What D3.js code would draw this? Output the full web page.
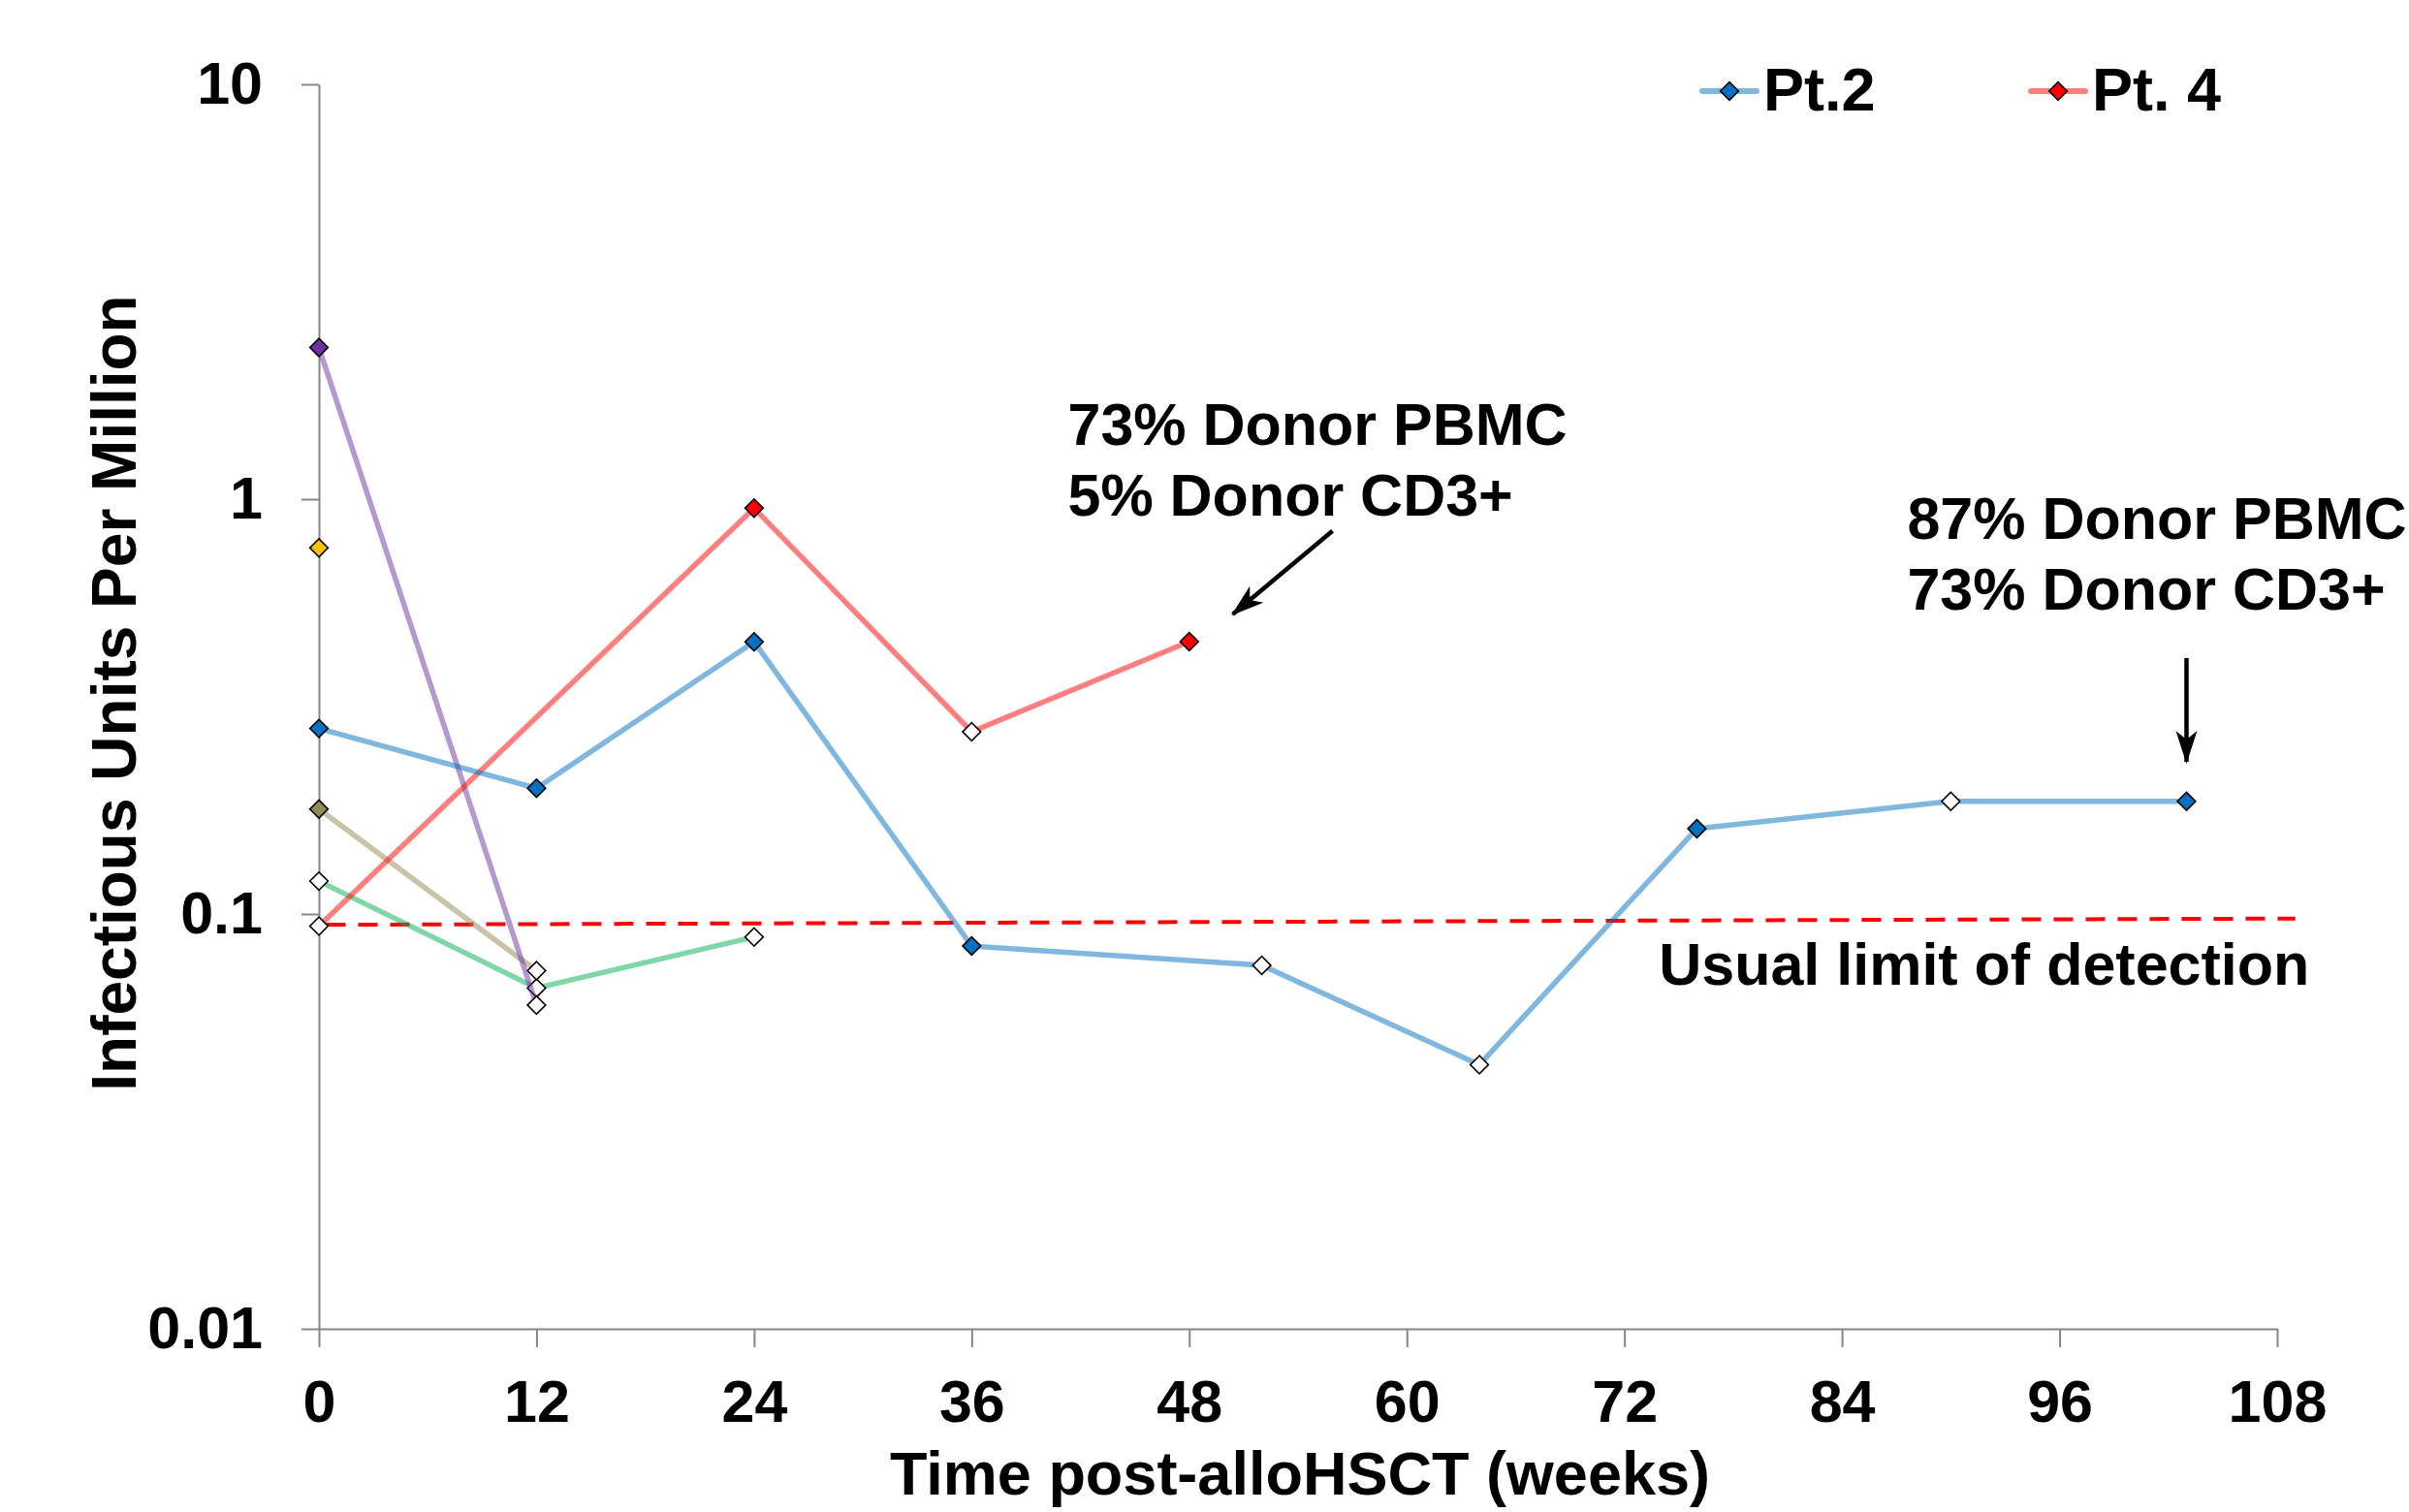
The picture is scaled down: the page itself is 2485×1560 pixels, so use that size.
<html>
<head>
<title>Infectious units per million</title>
<script src="https://cdn.jsdelivr.net/npm/d3@7"></script>
<style>
  body { margin: 0; background: #fff; }
  text { font-family: "Liberation Sans", Arial, sans-serif; font-weight: bold; fill: #000; }
</style>
</head>
<body>
<svg id="chart" width="2485" height="1560"></svg>

<script type="text/javascript">
// weeks post-alloHSCT, infectious units per million, filled = 1 / open marker = 0
var pt2Weeks  = [0, 12, 24, 36, 52, 64, 76, 90, 103],
    pt2Values = [0.280, 0.201, 0.453, 0.0837, 0.0752, 0.0433, 0.1606, 0.187, 0.187],
    pt2Filled = [1, 1, 1, 1, 0, 0, 1, 0, 1];

var pt4Weeks  = [0, 24, 36, 48],
    pt4Values = [0.0935, 0.951, 0.275, 0.4535],
    pt4Filled = [0, 1, 0, 1];

var purpleWeeks  = [0, 12],
    purpleValues = [2.32, 0.0603],
    purpleFilled = [1, 0];

var oliveWeeks  = [0, 12],
    oliveValues = [0.179, 0.073],
    oliveFilled = [1, 0];

var greenWeeks  = [0, 12, 24],
    greenValues = [0.120, 0.0663, 0.088],
    greenFilled = [0, 0, 0];

var yellowWeeks  = [0],
    yellowValues = [0.763],
    yellowFilled = [1];

var limitWeeks  = [0.4, 109],
    limitValues = [0.0942, 0.0975];

var xTicks = [0, 12, 24, 36, 48, 60, 72, 84, 96, 108],
    yTicks = [0.01, 0.1, 1, 10],
    yTickLabels = ["0.01", "0.1", "1", "10"];

var legendNames = ["Pt.2", "Pt. 4"];

var series = [
  { weeks: greenWeeks,  values: greenValues,  filled: greenFilled,  color: "#00B050" },
  { weeks: oliveWeeks,  values: oliveValues,  filled: oliveFilled,  color: "#948A54" },
  { weeks: purpleWeeks, values: purpleValues, filled: purpleFilled, color: "#7030A0" },
  { weeks: yellowWeeks, values: yellowValues, filled: yellowFilled, color: "#FFC000" },
  { weeks: pt4Weeks,    values: pt4Values,    filled: pt4Filled,    color: "#FF0000" },
  { weeks: pt2Weeks,    values: pt2Values,    filled: pt2Filled,    color: "#0070C0" }
];

var svg = d3.select("#chart");

var x = d3.scaleLinear().domain([0, 108]).range([329, 2349]),
    y = d3.scaleLog().domain([0.01, 10]).range([1371, 87]);

var axisColor = "#868686";

// axes
var yAxis = svg.append("g")
    .attr("transform", "translate(" + x(0) + ",0)")
    .call(d3.axisLeft(y).tickValues(yTicks).tickSize(18).tickSizeOuter(0).tickPadding(40)
      .tickFormat(function(d, i) { return yTickLabels[i]; }));

var xAxis = svg.append("g")
    .attr("transform", "translate(0," + y(0.01) + ")")
    .call(d3.axisBottom(x).tickValues(xTicks).tickSize(19).tickSizeOuter(0).tickPadding(34));

[yAxis, xAxis].forEach(function(g) {
  g.select(".domain").attr("stroke", axisColor).attr("stroke-width", 2);
  g.selectAll(".tick line").attr("stroke", axisColor).attr("stroke-width", 2);
  g.selectAll(".tick text")
    .style("font-family", "'Liberation Sans', Arial, sans-serif")
    .style("font-weight", "bold")
    .style("font-size", "61px")
    .attr("fill", "#000");
});

// axis titles
svg.append("text")
    .attr("x", (x(0) + x(108)) / 2 + 2)
    .attr("y", 1542)
    .attr("text-anchor", "middle")
    .style("font-size", "63px")
    .text("Time post-alloHSCT (weeks)");

svg.append("text")
    .attr("transform", "translate(140," + 715 + ") rotate(-90)")
    .attr("text-anchor", "middle")
    .style("font-size", "64px")
    .text("Infectious Units Per Million");

// usual limit of detection
svg.append("path")
    .datum(d3.zip(limitWeeks, limitValues))
    .attr("fill", "none")
    .attr("stroke", "#FF0000")
    .attr("stroke-width", 4)
    .attr("stroke-dasharray", "20,13")
    .attr("d", d3.line().x(function(d) { return x(d[0]); }).y(function(d) { return y(d[1]); }));

svg.append("text")
    .attr("x", x(73.9))
    .attr("y", y(0.0675))
    .style("font-size", "61px")
    .text("Usual limit of detection");

// series lines + markers
var line = d3.line()
    .x(function(d) { return x(d[0]); })
    .y(function(d) { return y(d[1]); });

var diamond = d3.symbol().type(d3.symbolSquare).size(175);

series.forEach(function(s) {
  var pts = d3.zip(s.weeks, s.values, s.filled);
  if (pts.length > 1) {
    svg.append("path")
        .datum(pts)
        .attr("fill", "none")
        .attr("stroke", s.color)
        .attr("stroke-opacity", 0.5)
        .attr("stroke-width", 5.5)
        .attr("stroke-linejoin", "round")
        .attr("stroke-linecap", "round")
        .attr("d", line);
  }
  svg.append("g").selectAll("path")
      .data(pts)
      .enter().append("path")
      .attr("d", diamond)
      .attr("transform", function(d) { return "translate(" + x(d[0]) + "," + y(d[1]) + ") rotate(45)"; })
      .attr("fill", function(d) { return d[2] ? s.color : "#fff"; })
      .attr("stroke", "#000")
      .attr("stroke-width", 1.6);
});

// annotations
var arrowHead = svg.append("defs").append("marker")
    .attr("id", "head")
    .attr("viewBox", "0 -12 34 24")
    .attr("refX", 32)
    .attr("refY", 0)
    .attr("markerWidth", 34)
    .attr("markerHeight", 24)
    .attr("markerUnits", "userSpaceOnUse")
    .attr("orient", "auto");
arrowHead.append("path")
    .attr("d", "M0,-11L34,0L0,11L9,0Z")
    .attr("fill", "#000");

var arrowFrom = [[55.9, 0.838], [103, 0.414]],
    arrowTo   = [[50.4, 0.528], [103, 0.2327]];

arrowFrom.forEach(function(a, i) {
  svg.append("line")
      .attr("x1", x(a[0])).attr("y1", y(a[1]))
      .attr("x2", x(arrowTo[i][0])).attr("y2", y(arrowTo[i][1]))
      .attr("stroke", "#000")
      .attr("stroke-width", 4.5)
      .attr("marker-end", "url(#head)");
});

var noteLines = [["73% Donor PBMC", "5% Donor CD3+"], ["87% Donor PBMC", "73% Donor CD3+"]],
    notePos = [[41.3, 1.352], [87.6, 0.80]];

noteLines.forEach(function(lines, i) {
  var t = svg.append("text")
      .attr("x", x(notePos[i][0]))
      .attr("y", y(notePos[i][1]))
      .style("font-size", "61px");
  lines.forEach(function(l, j) {
    t.append("tspan")
        .attr("x", x(notePos[i][0]))
        .attr("dy", j ? 73 : 0)
        .text(l);
  });
});

// legend
var legend = svg.append("g").selectAll("g")
    .data(legendNames)
    .enter().append("g")
    .attr("transform", function(d, i) { return "translate(" + (1756 + i * 339) + ",94)"; });

legend.append("line")
    .attr("x1", 0).attr("x2", 56)
    .attr("stroke", function(d, i) { return i ? "#FF0000" : "#0070C0"; })
    .attr("stroke-opacity", 0.5)
    .attr("stroke-width", 6)
    .attr("stroke-linecap", "round");

legend.append("path")
    .attr("d", diamond)
    .attr("transform", "translate(28,0) rotate(45)")
    .attr("fill", function(d, i) { return i ? "#FF0000" : "#0070C0"; })
    .attr("stroke", "#000")
    .attr("stroke-width", 1.6);

legend.append("text")
    .attr("x", 63)
    .attr("y", 20)
    .style("font-size", "63px")
    .text(function(d) { return d; });
</script>
</body>
</html>
